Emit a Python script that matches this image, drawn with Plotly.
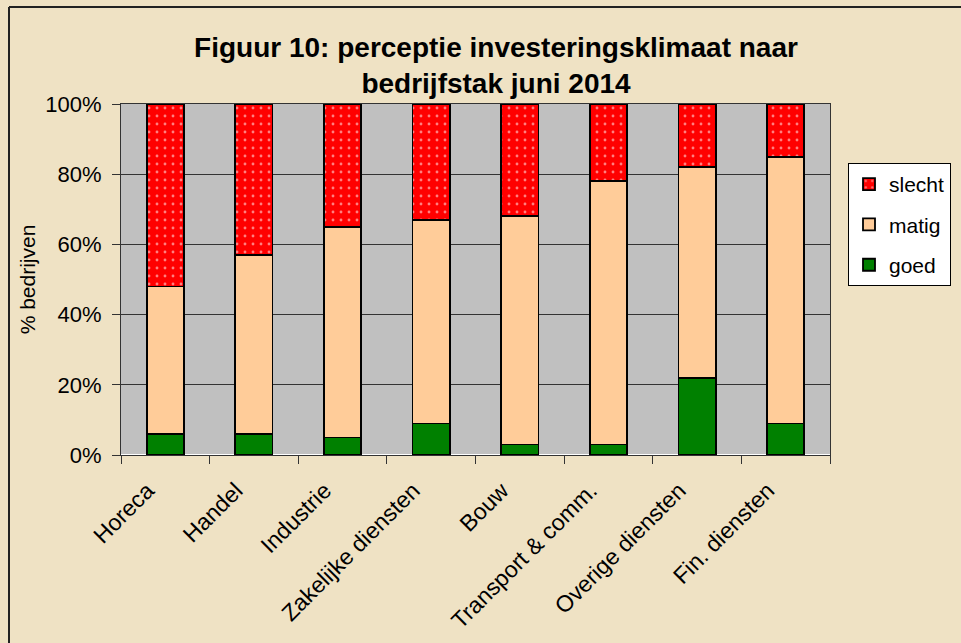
import plotly.graph_objects as go

categories = ["Horeca", "Handel", "Industrie", "Zakelijke diensten", "Bouw",
              "Transport & comm.", "Overige diensten", "Fin. diensten"]
goed = [6, 6, 5, 9, 3, 3, 22, 9]
matig = [42, 51, 60, 58, 65, 75, 60, 76]
slecht = [52, 43, 35, 33, 32, 22, 18, 15]
y_ticks = [0, 20, 40, 60, 80, 100]
y_ticklabels = ["0%", "20%", "40%", "60%", "80%", "100%"]

FONT = "Liberation Sans, Arial, sans-serif"
W, H = 961, 643
L, R, T, B = 121, 131, 104, 188
PW, PH = W - L - R, H - T - B

def px_x(x):
    return (x - L) / PW

def px_y(y):
    return (H - B - y) / PH

fig = go.Figure()
line = dict(color="black", width=1.8)
fig.add_trace(go.Bar(x=categories, y=goed, name="goed", legendgroup="g", legendrank=3,
                     marker=dict(color="#008000", line=line)))
fig.add_trace(go.Bar(x=categories, y=matig, name="matig", legendgroup="m", legendrank=2,
                     marker=dict(color="#FFCC99", line=line)))
fig.add_trace(go.Bar(x=categories, y=slecht, name="slecht", legendgroup="s", legendrank=1,
                     marker=dict(color="#FF0000", line=line,
                                 pattern=dict(shape=".", fgcolor="white",
                                              bgcolor="#FF0000", size=8,
                                              solidity=0.1))))

fig.update_layout(
    width=W, height=H,
    barmode="stack", bargap=0.58,
    paper_bgcolor="#EFE2C4", plot_bgcolor="#C0C0C0",
    margin=dict(l=L, r=R, t=T, b=B, autoexpand=False),
    font=dict(family=FONT, size=20, color="black"),
    title=dict(text="<b>Figuur 10: perceptie investeringsklimaat naar<br>bedrijfstak juni 2014</b>",
               x=px_x(496), xref="paper", xanchor="center",
               y=1 - 57 / H, yref="container", yanchor="top",
               font=dict(family=FONT, size=28, color="black")),
    legend=dict(x=px_x(848), y=px_y(163), xanchor="left", yanchor="top",
                bgcolor="white", bordercolor="black", borderwidth=1,
                traceorder="grouped", tracegroupgap=10,
                font=dict(family=FONT, size=21)),
    showlegend=True,
    shapes=[
        dict(type="line", xref="paper", yref="paper", x0=px_x(9), x1=px_x(W + 5),
             y0=px_y(7), y1=px_y(7), line=dict(color="#222222", width=2)),
        dict(type="line", xref="paper", yref="paper", x0=px_x(9), x1=px_x(9),
             y0=px_y(7), y1=px_y(H + 5), line=dict(color="#222222", width=2)),
    ],
)

fig.update_xaxes(
    tickangle=-45, tickson="boundaries", ticks="outside", ticklen=8,
    tickcolor="#333333", showline=True, linecolor="#333333", linewidth=1,
    mirror=True, showgrid=False, tickfont=dict(family=FONT, size=23),
    ticklabelshift=-18, ticklabelstandoff=12,
)
fig.update_yaxes(
    range=[0, 100], tickvals=y_ticks, ticktext=y_ticklabels,
    ticks="outside", ticklen=8, tickcolor="#333333",
    showline=True, linecolor="#333333", linewidth=1, mirror=True,
    showgrid=True, gridcolor="#333333", gridwidth=1,
    tickfont=dict(family=FONT, size=22), ticklabelstandoff=6,
    title=dict(text="% bedrijven", font=dict(family=FONT, size=21), standoff=3),
)

fig.write_html("out.html", config={"displayModeBar": False},
               post_script="document.body.style.margin='0';")
